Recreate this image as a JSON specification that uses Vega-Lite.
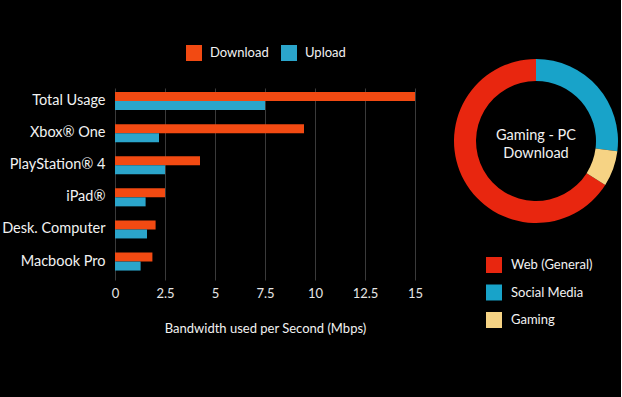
{
  "$schema": "https://vega.github.io/schema/vega-lite/v6.json",
  "background": "#000000",
  "padding": {"left": 0, "top": 45, "right": 0, "bottom": 65},
  "autosize": {"type": "pad"},
  "bounds": "flush",
  "spacing": 36,
  "config": {"view": {"stroke": null}, "font": "Lato"},
  "resolve": {"scale": {"color": "independent"}, "legend": {"color": "independent"}},
  "hconcat": [
    {
      "width": 300,
      "height": 192,
      "data": {"values": [
        {"device": "Total Usage", "series": "Download", "mbps": 15},
        {"device": "Total Usage", "series": "Upload", "mbps": 7.5},
        {"device": "Xbox® One", "series": "Download", "mbps": 9.45},
        {"device": "Xbox® One", "series": "Upload", "mbps": 2.2},
        {"device": "PlayStation® 4", "series": "Download", "mbps": 4.25},
        {"device": "PlayStation® 4", "series": "Upload", "mbps": 2.5},
        {"device": "iPad®", "series": "Download", "mbps": 2.5},
        {"device": "iPad®", "series": "Upload", "mbps": 1.53},
        {"device": "Desk. Computer", "series": "Download", "mbps": 2.03},
        {"device": "Desk. Computer", "series": "Upload", "mbps": 1.6},
        {"device": "Macbook Pro", "series": "Download", "mbps": 1.87},
        {"device": "Macbook Pro", "series": "Upload", "mbps": 1.28}
      ]},
      "mark": {"type": "bar"},
      "encoding": {
        "y": {
          "field": "device", "type": "nominal",
          "sort": ["Total Usage", "Xbox® One", "PlayStation® 4", "iPad®", "Desk. Computer", "Macbook Pro"],
          "scale": {"paddingInner": 0.44, "paddingOuter": 0.21, "align": 0.3},
          "axis": {"title": null, "domain": false, "ticks": false, "labelFontSize": 14.5, "labelColor": "#f2f2f2", "labelPadding": 10, "minExtent": 115, "maxExtent": 115}
        },
        "yOffset": {"field": "series", "type": "nominal", "sort": ["Download", "Upload"]},
        "x": {
          "field": "mbps", "type": "quantitative",
          "scale": {"domain": [0, 15], "nice": false},
          "axis": {
            "values": [0, 2.5, 5, 7.5, 10, 12.5, 15], "format": ".3~g", "labelFlush": false,
            "title": "Bandwidth used per Second (Mbps)",
            "titleColor": "#f2f2f2", "titleFontSize": 13, "titleFontWeight": "normal", "titlePadding": 22,
            "domain": false, "ticks": false,
            "labelColor": "#e6e6e6", "labelFontSize": 13, "labelPadding": 7,
            "grid": true, "gridColor": "#3a3a3a", "gridWidth": 1
          }
        },
        "color": {
          "field": "series", "type": "nominal",
          "scale": {"domain": ["Download", "Upload"], "range": ["#f24a12", "#2ba5cb"]},
          "legend": {
            "orient": "none", "legendX": 71, "legendY": -43, "direction": "horizontal",
            "title": null, "symbolType": "square", "symbolSize": 256, "symbolStrokeWidth": 0, "symbolOpacity": 1,
            "labelColor": "#f2f2f2", "labelFontSize": 13, "labelOffset": 8, "columnPadding": 12
          }
        }
      }
    },
    {
      "width": 170,
      "height": 106,
      "layer": [
        {
          "data": {"values": [
            {"category": "Web (General)", "share": 66, "ord": 3},
            {"category": "Social Media", "share": 27, "ord": 1},
            {"category": "Gaming", "share": 7, "ord": 2}
          ]},
          "mark": {"type": "arc", "innerRadius": 60, "outerRadius": 82},
          "encoding": {
            "theta": {"field": "share", "type": "quantitative", "stack": true},
            "order": {"field": "ord", "type": "quantitative"},
            "color": {
              "field": "category", "type": "nominal",
              "scale": {"domain": ["Web (General)", "Social Media", "Gaming"], "range": ["#e8260f", "#18a3c9", "#f6d384"]},
              "legend": {
                "orient": "none", "legendX": 35, "legendY": 169, "direction": "vertical",
                "title": null, "symbolType": "square", "symbolSize": 256, "symbolStrokeWidth": 0, "symbolOpacity": 1,
                "labelColor": "#f2f2f2", "labelFontSize": 13, "labelOffset": 9, "rowPadding": 11.5
              }
            }
          }
        },
        {
          "data": {"values": [{"label": "Gaming - PC\nDownload"}]},
          "mark": {"type": "text", "color": "#f2f2f2", "fontSize": 14.5, "lineBreak": "\n", "lineHeight": 18, "baseline": "middle", "align": "center", "dy": -5},
          "encoding": {"text": {"field": "label", "type": "nominal"}}
        }
      ]
    }
  ]
}
